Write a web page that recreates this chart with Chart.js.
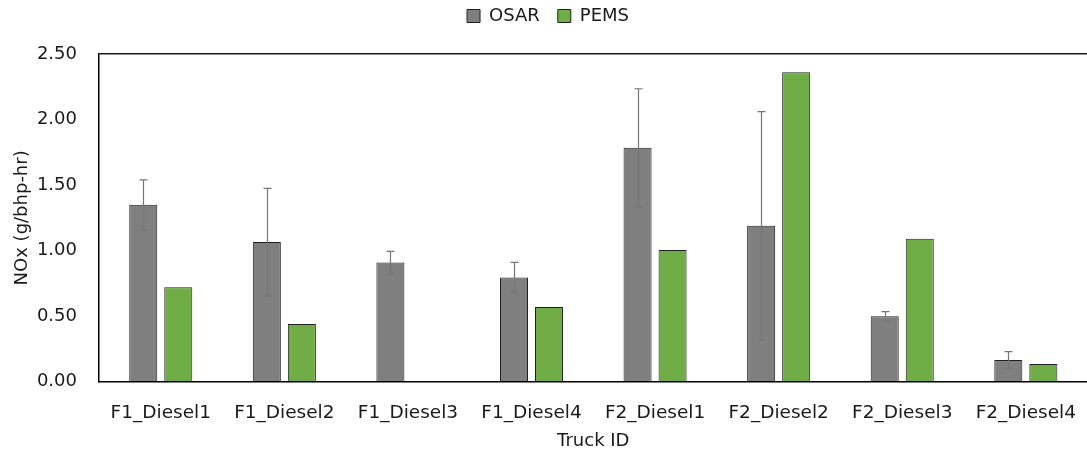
<!DOCTYPE html>
<html>
<head>
<meta charset="utf-8">
<title>NOx by truck</title>
<script src="https://cdn.jsdelivr.net/npm/chart.js@4.4.1/dist/chart.umd.min.js"></script>
<style>
  html, body { margin: 0; padding: 0; background: #fff; overflow: hidden; }
  #wrap { width: 1096px; height: 457px; }
</style>
</head>
<body>
<div id="wrap"><canvas id="noxChart"></canvas></div>
<script>
/* --- Data --- */
const trucks = ['F1_Diesel1', 'F1_Diesel2', 'F1_Diesel3', 'F1_Diesel4',
                'F2_Diesel1', 'F2_Diesel2', 'F2_Diesel3', 'F2_Diesel4'];
const osarValues = [1.35, 1.065, 0.91, 0.795, 1.785, 1.19, 0.50, 0.165];
const osarErrors = [0.19, 0.41, 0.085, 0.115, 0.45, 0.87, 0.035, 0.065];
const pemsValues = [0.72, 0.44, null, 0.57, 1.005, 2.36, 1.09, 0.135];
const yTicks = [0, 0.5, 1.0, 1.5, 2.0, 2.5];

const FONT = 'DejaVu Sans';
const TEXT = '#1a1a1a';

// error bars on the OSAR series, drawn through the y scale
const errorBars = {
  id: 'errorBars',
  afterDatasetsDraw(chart) {
    const { ctx, scales: { y } } = chart;
    const meta = chart.getDatasetMeta(0);
    ctx.save();
    ctx.strokeStyle = '#767676';
    ctx.lineWidth = 1.2;
    meta.data.forEach((bar, i) => {
      const v = osarValues[i], e = osarErrors[i];
      if (v == null || e == null) return;
      const x = Math.round(bar.x) + 0.5;
      const top = y.getPixelForValue(v + e);
      const bot = y.getPixelForValue(v - e);
      ctx.beginPath();
      ctx.moveTo(x, top); ctx.lineTo(x, bot);
      ctx.moveTo(x - 4, top); ctx.lineTo(x + 4, top);
      ctx.moveTo(x - 4, bot); ctx.lineTo(x + 4, bot);
      ctx.stroke();
    });
    ctx.restore();
  }
};

// extra room under the legend
const legendGap = {
  id: 'legendGap',
  beforeInit(chart) {
    const fit = chart.legend.fit;
    chart.legend.fit = function () {
      fit.call(this);
      this.height += 19;
    };
  }
};

new Chart(document.getElementById('noxChart').getContext('2d'), {
  type: 'bar',
  data: {
    labels: trucks,
    datasets: [
      {
        label: 'OSAR',
        data: osarValues,
        backgroundColor: '#7f7f7f',
        borderColor: '#1f1f1f',
        borderWidth: 1,
        borderSkipped: 'bottom'
      },
      {
        label: 'PEMS',
        data: pemsValues,
        backgroundColor: '#70ad47',
        borderColor: '#1f1f1f',
        borderWidth: 1,
        borderSkipped: 'bottom'
      }
    ]
  },
  options: {
    responsive: true,
    maintainAspectRatio: false,
    animation: false,
    datasets: { bar: { categoryPercentage: 0.567, barPercentage: 0.8 } },
    layout: { padding: { top: -11, right: 0, left: 0, bottom: 0 } },
    plugins: {
      legend: {
        position: 'top',
        labels: {
          font: { family: FONT, size: 18 },
          color: TEXT,
          boxWidth: 13,
          boxHeight: 13,
          padding: 18
        }
      },
      tooltip: { enabled: false }
    },
    scales: {
      x: {
        grid: { display: false, drawTicks: false },
        border: { color: '#000', width: 1.5 },
        ticks: { font: { family: FONT, size: 18.5 }, color: TEXT, padding: 20, maxRotation: 0 },
        title: {
          display: true, text: 'Truck ID',
          font: { family: FONT, size: 18 }, color: TEXT,
          padding: { top: -13.5, bottom: 5 }
        }
      },
      y: {
        min: 0,
        max: 2.5,
        afterBuildTicks: (axis) => { axis.ticks = yTicks.map(v => ({ value: v })); },
        grid: {
          drawTicks: false,
          color: (c) => (c.tick && c.tick.value === 2.5) ? '#1a1a1a' : 'rgba(0,0,0,0)',
          lineWidth: 1.5
        },
        border: { color: '#000', width: 1.5 },
        ticks: {
          font: { family: FONT, size: 18 }, color: TEXT, padding: 22,
          callback: (v) => Number(v).toFixed(2)
        },
        title: {
          display: true, text: 'NOx (g/bhp-hr)',
          font: { family: FONT, size: 18 }, color: TEXT,
          padding: { top: 12, bottom: -18.7 }
        }
      }
    }
  },
  plugins: [errorBars, legendGap]
});
</script>
</body>
</html>
